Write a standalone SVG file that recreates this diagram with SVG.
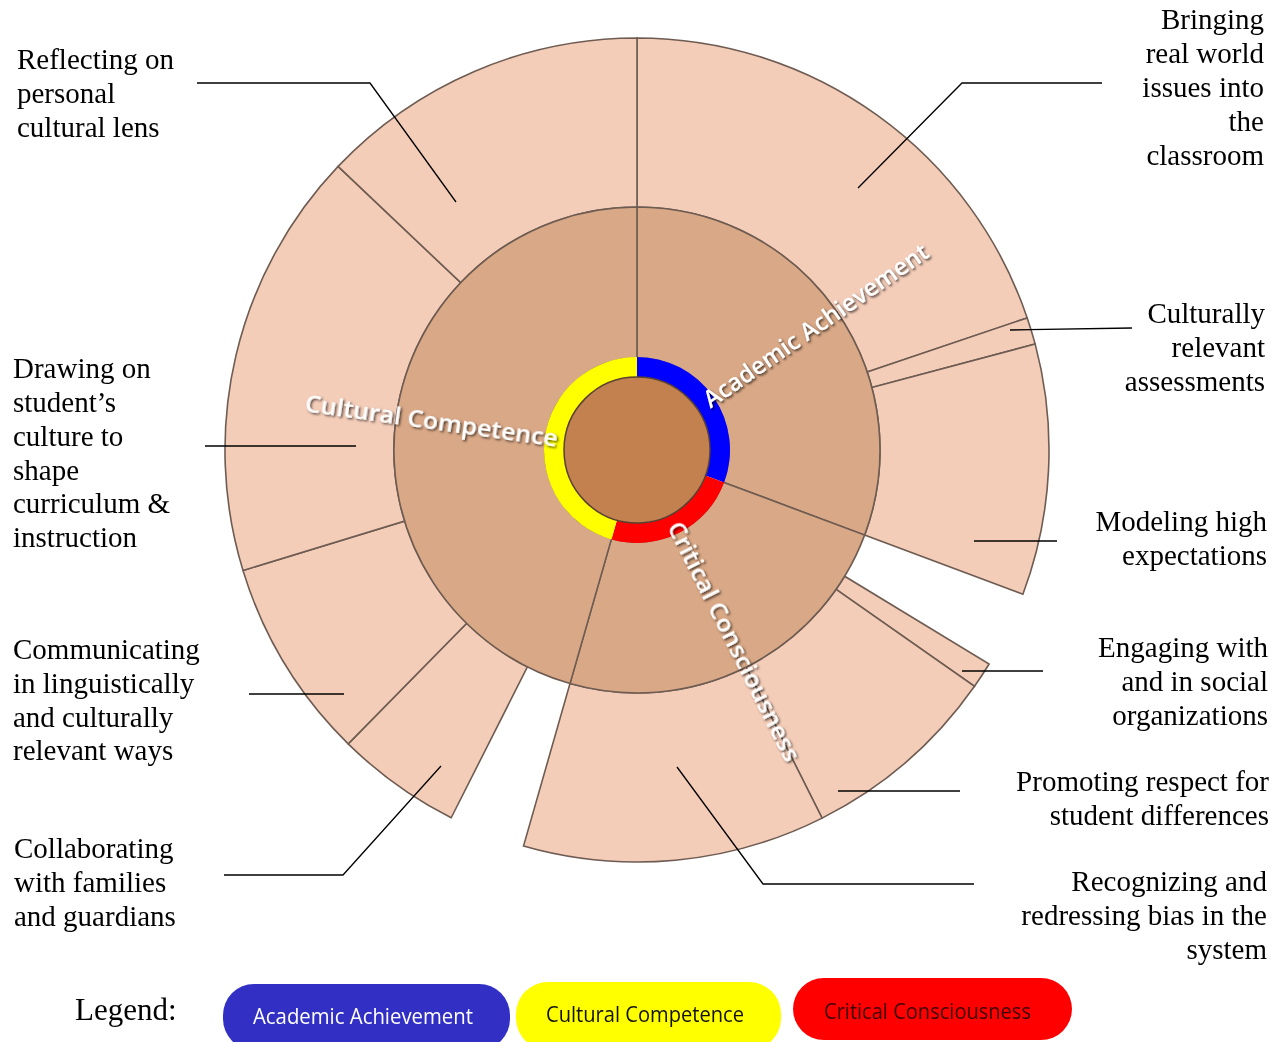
<svg xmlns="http://www.w3.org/2000/svg" width="1281" height="1042" viewBox="0 0 1281 1042">
<style>
.o{fill:#F4CDB9;stroke:#6e5c52;stroke-width:1.6}
.m{fill:#D9A886;stroke:#6e5c52;stroke-width:1.6}
.lbl{font-family:"Liberation Serif","Times New Roman",serif;font-size:29px;fill:#000}
.r{text-anchor:end}
.ld{fill:none;stroke:#000;stroke-width:1.3}
.in{font-family:"Open Sans","Noto Sans",sans-serif;font-weight:600;font-size:24px;fill:#fff}
.lg{font-family:"Open Sans","Noto Sans",sans-serif;font-size:21px}
</style>
<defs>
<filter id="sh" x="-10%" y="-10%" width="120%" height="120%">
<feDropShadow dx="1.5" dy="1.5" stdDeviation="1" flood-color="#000" flood-opacity="0.7"/>
</filter>
</defs>
<rect width="1281" height="1042" fill="#fff"/>

<g id="outer-ring">
<path id="bringing" class="o" d="M637,38 A412,412 0 0 1 1027.2,317.9 L867.2,372.1 A243,243 0 0 0 637,207 Z"/>
<path id="culturally-relevant" class="o" d="M1027.2,317.9 A412,412 0 0 1 1035.2,344.1 L871.8,387.5 A243,243 0 0 0 867.2,372.1 Z"/>
<path id="modeling" class="o" d="M1035.2,344.1 A412,412 0 0 1 1022.9,594.3 L864.6,535.1 A243,243 0 0 0 871.8,387.5 Z"/>
<path id="engaging" class="o" d="M989.1,664 A412,412 0 0 1 974.5,686.3 L836.1,589.4 A243,243 0 0 0 844.6,576.2 Z"/>
<path id="promoting" class="o" d="M974.5,686.3 A412,412 0 0 1 822.1,818.1 L746.2,667.1 A243,243 0 0 0 836.1,589.4 Z"/>
<path id="recognizing" class="o" d="M822.1,818.1 A412,412 0 0 1 523.5,846.1 L570,683.6 A243,243 0 0 0 746.2,667.1 Z"/>
<path id="collaborating" class="o" d="M451.2,817.8 A412,412 0 0 1 348.2,743.9 L466.7,623.3 A243,243 0 0 0 527.4,666.9 Z"/>
<path id="communicating" class="o" d="M348.2,743.9 A412,412 0 0 1 243,570.5 L404.6,521.1 A243,243 0 0 0 466.7,623.3 Z"/>
<path id="drawing" class="o" d="M243,570.5 A412,412 0 0 1 338.1,166.4 L460.7,282.7 A243,243 0 0 0 404.6,521.1 Z"/>
<path id="reflecting" class="o" d="M338.1,166.4 A412,412 0 0 1 637,38 L637,207 A243,243 0 0 0 460.7,282.7 Z"/>
</g>

<g id="middle-ring">
<path id="academic" class="m" d="M637,207 A243,243 0 0 1 864.6,535.1 L723.2,482.2 A92,92 0 0 0 637,358 Z"/>
<path id="critical" class="m" d="M864.6,535.1 A243,243 0 0 1 570,683.6 L611.6,538.4 A92,92 0 0 0 723.2,482.2 Z"/>
<path id="cultural" class="m" d="M570,683.6 A243,243 0 0 1 637,207 L637,358 A92,92 0 0 0 611.6,538.4 Z"/>
</g>

<g id="color-ring">
<path fill="#0000FF" d="M637,357 A93,93 0 0 1 724.1,482.6 L705.4,475.6 A73,73 0 0 0 637,377 Z"/>
<path fill="#FF0000" d="M724.1,482.6 A93,93 0 0 1 611.4,539.4 L616.9,520.2 A73,73 0 0 0 705.4,475.6 Z"/>
<path fill="#FFFF00" d="M611.4,539.4 A93,93 0 0 1 637,357 L637,377 A73,73 0 0 0 616.9,520.2 Z"/>
<circle id="center" cx="637" cy="450" r="73" fill="#C2814F" stroke="#5a4030" stroke-width="1.5"/>
</g>

<g id="inner-labels" filter="url(#sh)">
<text class="in" transform="translate(637,450) rotate(-34.75)" x="84" y="8" textLength="268" lengthAdjust="spacingAndGlyphs">Academic Achievement</text>
<text class="in" transform="translate(637,450) rotate(8)" x="-80" y="8" text-anchor="end" textLength="255" lengthAdjust="spacingAndGlyphs">Cultural Competence</text>
<text class="in" transform="translate(637,450) rotate(63.25)" x="82" y="8" textLength="265" lengthAdjust="spacingAndGlyphs">Critical Consciousness</text>
</g>

<g id="connectors">
<polyline class="ld" points="197,83 370,83 456,202"/>
<polyline class="ld" points="1102,83 962,83 858,188"/>
<polyline class="ld" points="1132,328 1010,330"/>
<polyline class="ld" points="1057,541 974,541"/>
<polyline class="ld" points="1043,671 962,671"/>
<polyline class="ld" points="960,791 838,791"/>
<polyline class="ld" points="974,884 763,884 677,767"/>
<polyline class="ld" points="224,875 343,875 441,766"/>
<polyline class="ld" points="249,694 344,694"/>
<polyline class="ld" points="205,446 356,446"/>
</g>

<g id="label-reflecting"><text class="lbl" x="17" y="69">Reflecting on<tspan x="17" dy="34">personal</tspan><tspan x="17" dy="34">cultural lens</tspan></text></g>
<g id="label-bringing"><text class="lbl r" x="1264" y="29">Bringing<tspan x="1264" dy="34">real world</tspan><tspan x="1264" dy="34">issues into</tspan><tspan x="1264" dy="34">the</tspan><tspan x="1264" dy="34">classroom</tspan></text></g>
<g id="label-culturally"><text class="lbl r" x="1265" y="323">Culturally<tspan x="1265" dy="34">relevant</tspan><tspan x="1265" dy="34">assessments</tspan></text></g>
<g id="label-modeling"><text class="lbl r" x="1267" y="531">Modeling high<tspan x="1267" dy="34">expectations</tspan></text></g>
<g id="label-engaging"><text class="lbl r" x="1268" y="657">Engaging with<tspan x="1268" dy="34">and in social</tspan><tspan x="1268" dy="34">organizations</tspan></text></g>
<g id="label-promoting"><text class="lbl r" x="1269" y="791">Promoting respect for<tspan x="1269" dy="34">student differences</tspan></text></g>
<g id="label-recognizing"><text class="lbl r" x="1267" y="891">Recognizing and<tspan x="1267" dy="34">redressing bias in the</tspan><tspan x="1267" dy="34">system</tspan></text></g>
<g id="label-drawing"><text class="lbl" x="13" y="378">Drawing on<tspan x="13" dy="34">student’s</tspan><tspan x="13" dy="34">culture to</tspan><tspan x="13" dy="34">shape</tspan><tspan x="13" dy="33">curriculum &amp;</tspan><tspan x="13" dy="34">instruction</tspan></text></g>
<g id="label-communicating"><text class="lbl" x="13" y="659">Communicating<tspan x="13" dy="34">in linguistically</tspan><tspan x="13" dy="34">and culturally</tspan><tspan x="13" dy="33">relevant ways</tspan></text></g>
<g id="label-collaborating"><text class="lbl" x="14" y="858">Collaborating<tspan x="14" dy="34">with families</tspan><tspan x="14" dy="34">and guardians</tspan></text></g>

<g id="legend">
<text x="75" y="1020" font-family="Liberation Serif,serif" font-size="31">Legend:</text>
<rect x="223" y="984" width="287" height="66" rx="31" fill="#3230C4"/>
<text class="lg" x="253" y="1024" fill="#fff" textLength="220" lengthAdjust="spacingAndGlyphs">Academic Achievement</text>
<rect x="516" y="982" width="265" height="68" rx="32" fill="#FFFF00"/>
<text class="lg" x="546" y="1022" fill="#111" textLength="198" lengthAdjust="spacingAndGlyphs">Cultural Competence</text>
<rect x="793" y="978" width="279" height="62" rx="31" fill="#FF0000"/>
<text class="lg" x="824" y="1019" fill="#3a0000" textLength="207" lengthAdjust="spacingAndGlyphs">Critical Consciousness</text>
</g>
</svg>
